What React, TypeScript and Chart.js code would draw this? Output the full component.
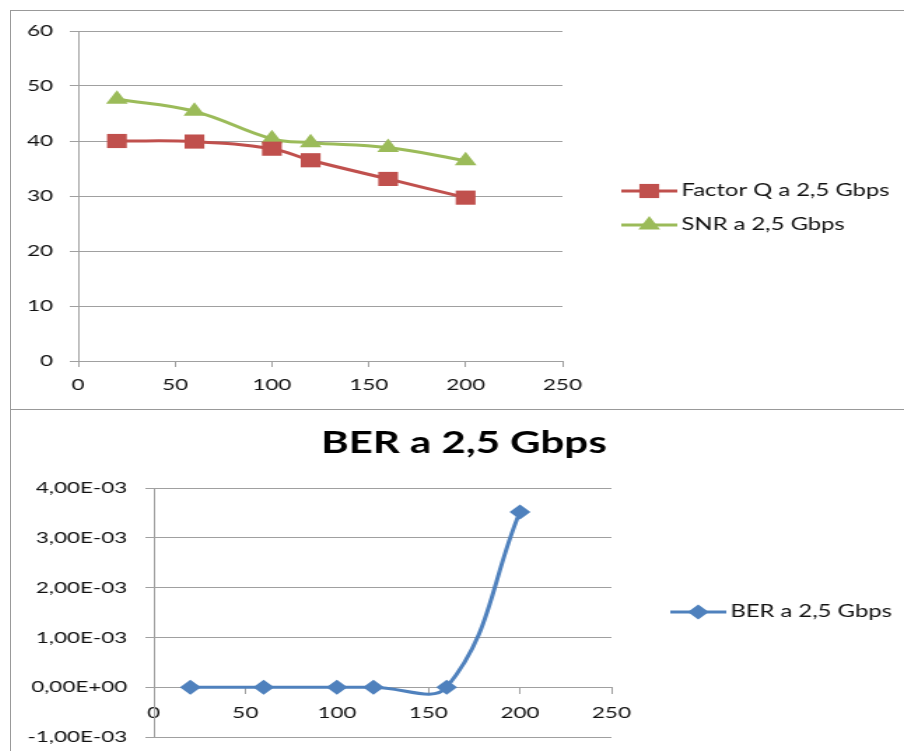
import React, { useEffect, useRef } from 'react';
import { Chart, registerables } from 'chart.js';

Chart.register(...registerables);

// ---------- data ----------
const distanceKm = [20, 60, 100, 120, 160, 200];
const factorQ = [40.0, 39.9, 38.6, 36.5, 33.1, 29.7];
const snr = [47.6, 45.4, 40.4, 39.7, 38.8, 36.4];
const ber = [0, 0, 0, 0, 0, 0.00352];

const xTickValues = [0, 50, 100, 150, 200, 250];
const topYTickValues = [0, 10, 20, 30, 40, 50, 60];
const berYTickValues = [-0.001, 0, 0.001, 0.002, 0.003, 0.004];
const berYTickLabels = ['-1,00E-03', '0,00E+00', '1,00E-03', '2,00E-03', '3,00E-03', '4,00E-03'];

const factorQLabel = 'Factor Q a 2,5 Gbps';
const snrLabel = 'SNR a 2,5 Gbps';
const berLabel = 'BER a 2,5 Gbps';
const berTitle = 'BER a 2,5 Gbps';

// ---------- styles ----------
const RED = '#C0504D';
const GREEN = '#9BBB59';
const BLUE = '#4F81BD';
const GRID = '#A0A0A0';
const TEXT = '#111111';
const FONT = 'Lato, "Open Sans", "DejaVu Sans", sans-serif';
const STRETCH = 1.4;
const DISPLAY_W = 893;
const CANVAS_W = Math.round(DISPLAY_W / STRETCH);
const TOP_H = 397;
const BOT_H = 341;

function drawMarker(ctx: CanvasRenderingContext2D, style: string, r: number, x: number, y: number, color: string) {
  ctx.beginPath();
  if (style === 'rect') {
    const s = r * Math.SQRT1_2;
    ctx.rect(x - s, y - s, 2 * s, 2 * s);
  } else if (style === 'triangle') {
    ctx.moveTo(x, y - r);
    ctx.lineTo(x + r * Math.sin((2 * Math.PI) / 3), y + r * 0.5);
    ctx.lineTo(x - r * Math.sin((2 * Math.PI) / 3), y + r * 0.5);
    ctx.closePath();
  } else {
    ctx.moveTo(x - r, y);
    ctx.lineTo(x, y - r);
    ctx.lineTo(x + r, y);
    ctx.lineTo(x, y + r);
    ctx.closePath();
  }
  ctx.fillStyle = color;
  ctx.fill();
}

const excelLegend = {
  id: 'excelLegend',
  afterDraw(chart: any, _args: any, opts: any) {
    const { ctx, chartArea } = chart;
    const ds = chart.data.datasets;
    const n = ds.length;
    const startY = opts.centerY - ((n - 1) * opts.spacing) / 2;
    ctx.save();
    ds.forEach((d: any, i: number) => {
      const y = startY + i * opts.spacing;
      const x0 = chartArea.right + opts.offset;
      ctx.strokeStyle = d.borderColor;
      ctx.lineWidth = d.borderWidth;
      ctx.beginPath();
      ctx.moveTo(x0, y);
      ctx.lineTo(x0 + opts.lineLength, y);
      ctx.stroke();
      drawMarker(ctx, d.pointStyle, d.pointRadius, x0 + opts.lineLength / 2, y, d.backgroundColor);
      ctx.fillStyle = TEXT;
      ctx.font = `${opts.fontSize}px ${FONT}`;
      ctx.textAlign = 'left';
      ctx.textBaseline = 'middle';
      ctx.fillText(d.label, x0 + opts.lineLength + opts.gap, y);
    });
    ctx.restore();
  },
};

const tickFont = { family: FONT, size: 16 };

function points(ys: number[]) {
  return distanceKm.map((x, i) => ({ x, y: ys[i] }));
}

function fixYAxis(width: number) {
  return (s: any) => {
    s.width = width;
    s.paddingTop = 0;
    s.paddingBottom = 0;
  };
}

function topConfig(): any {
  return {
    type: 'line',
    data: {
      datasets: [
        {
          label: factorQLabel,
          data: points(factorQ),
          borderColor: RED,
          backgroundColor: RED,
          borderWidth: 3,
          pointStyle: 'rect',
          pointRadius: 10,
          pointBorderWidth: 0,
          pointBackgroundColor: RED,
          tension: 0.4,
          xAxisID: 'x',
          yAxisID: 'y',
        },
        {
          label: snrLabel,
          data: points(snr),
          borderColor: GREEN,
          backgroundColor: GREEN,
          borderWidth: 3,
          pointStyle: 'triangle',
          pointRadius: 9,
          pointBorderWidth: 0,
          pointBackgroundColor: GREEN,
          tension: 0.4,
          xAxisID: 'x',
          yAxisID: 'y',
        },
      ],
    },
    options: {
      responsive: false,
      animation: false,
      devicePixelRatio: 1,
      layout: { padding: { left: 0, right: 244, top: 20, bottom: 0 } },
      plugins: {
        legend: { display: false },
        tooltip: { enabled: false },
        excelLegend: { centerY: 197, spacing: 34, offset: 42, lineLength: 40, gap: 3, fontSize: 17 },
      },
      scales: {
        x: {
          type: 'linear',
          position: 'bottom',
          min: 0,
          max: 250,
          afterBuildTicks: (s: any) => {
            s.ticks = xTickValues.map((v) => ({ value: v }));
          },
          afterFit: (s: any) => {
            s.height = 47;
          },
          ticks: { font: tickFont, color: TEXT, padding: 8, maxRotation: 0, autoSkip: false, callback: (v: any) => String(v) },
          grid: { drawOnChartArea: false, drawTicks: true, tickLength: 6, color: GRID },
          border: { display: true, color: GRID, width: 1 },
        },
        y: {
          type: 'linear',
          position: 'left',
          min: 0,
          max: 60,
          afterBuildTicks: (s: any) => {
            s.ticks = topYTickValues.map((v) => ({ value: v }));
          },
          afterFit: fixYAxis(48),
          ticks: { font: tickFont, color: TEXT, padding: 12, callback: (v: any) => String(v) },
          grid: { color: GRID, tickLength: 6, drawTicks: true },
          border: { display: true, color: GRID, width: 1 },
        },
      },
    },
    plugins: [excelLegend],
  };
}

function berConfig(): any {
  return {
    type: 'line',
    data: {
      datasets: [
        {
          label: berLabel,
          data: points(ber),
          borderColor: BLUE,
          backgroundColor: BLUE,
          borderWidth: 3,
          pointStyle: 'rectRot',
          pointRadius: 7.5,
          pointBorderWidth: 0,
          pointBackgroundColor: BLUE,
          tension: 0.4,
          xAxisID: 'x',
          yAxisID: 'y',
        },
      ],
    },
    options: {
      responsive: false,
      animation: false,
      devicePixelRatio: 1,
      layout: { padding: { left: 9, right: 0, top: 0, bottom: 14 } },
      plugins: {
        legend: { display: false },
        tooltip: { enabled: false },
        title: {
          display: true,
          text: berTitle,
          color: '#000',
          font: { family: FONT, size: 30, weight: 'bold' },
          padding: { top: 15, bottom: 27 },
        },
        excelLegend: { centerY: 202, spacing: 34, offset: 42, lineLength: 40, gap: 3, fontSize: 17 },
      },
      scales: {
        x: {
          type: 'linear',
          position: { y: 0 },
          min: 0,
          max: 250,
          afterBuildTicks: (s: any) => {
            s.ticks = xTickValues.map((v) => ({ value: v }));
          },
          afterFit: (s: any) => {
            s.height = 0;
          },
          ticks: { font: tickFont, color: TEXT, padding: 10, maxRotation: 0, autoSkip: false, callback: (v: any) => String(v) },
          grid: { drawOnChartArea: false, drawTicks: true, tickLength: 6, color: GRID },
          border: { display: true, color: GRID, width: 1 },
        },
        y: {
          type: 'linear',
          position: 'left',
          min: -0.001,
          max: 0.004,
          afterBuildTicks: (s: any) => {
            s.ticks = berYTickValues.map((v) => ({ value: v }));
          },
          afterFit: fixYAxis(93),
          ticks: {
            font: tickFont,
            color: TEXT,
            padding: 13,
            callback: (v: any) => {
              const i = berYTickValues.indexOf(v);
              return i >= 0 ? berYTickLabels[i] : '';
            },
          },
          grid: { color: GRID, tickLength: 6, drawTicks: true },
          border: { display: true, color: GRID, width: 1 },
        },
        spacer: {
          type: 'linear',
          position: 'right',
          display: false,
          afterFit: (s: any) => {
            s.width = 209;
          },
        },
      },
    },
    plugins: [excelLegend],
  };
}

export default function App() {
  const topRef = useRef<HTMLCanvasElement>(null);
  const botRef = useRef<HTMLCanvasElement>(null);

  useEffect(() => {
    const c1 = new Chart(topRef.current as HTMLCanvasElement, topConfig());
    const c2 = new Chart(botRef.current as HTMLCanvasElement, berConfig());
    return () => {
      c1.destroy();
      c2.destroy();
    };
  }, []);

  const boxStyle: React.CSSProperties = {
    position: 'absolute',
    left: 10,
    width: 900,
    height: 400,
    border: '1px solid #999999',
    boxSizing: 'border-box',
  };

  return (
    <div style={{ position: 'absolute', left: 0, top: 0, width: 904, height: 751, overflow: 'hidden', background: '#ffffff' }}>
      <div style={{ ...boxStyle, top: 10 }} />
      <div style={{ ...boxStyle, top: 409 }} />
      <canvas
        ref={topRef}
        width={CANVAS_W}
        height={TOP_H}
        style={{ position: 'absolute', left: 11, top: 11, width: DISPLAY_W, height: TOP_H }}
      />
      <canvas
        ref={botRef}
        width={CANVAS_W}
        height={BOT_H}
        style={{ position: 'absolute', left: 11, top: 410, width: DISPLAY_W, height: BOT_H }}
      />
    </div>
  );
}
